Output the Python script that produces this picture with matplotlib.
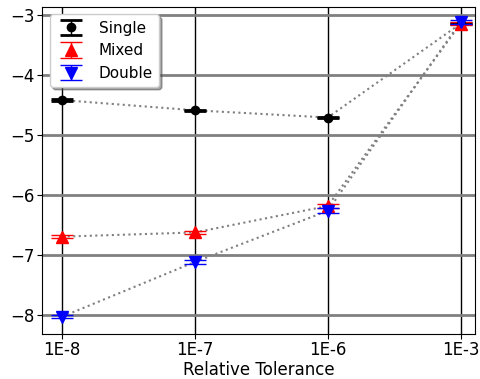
import matplotlib
matplotlib.use("Agg")
import matplotlib.pyplot as plt
import numpy as np

tolerances = ["1E-8", "1E-7", "1E-6", "1E-3"]
single = [-4.42, -4.59, -4.71, -3.15]
single_err = [0.01, 0.01, 0.01, 0.01]
mixed = [-6.69, -6.62, -6.18, -3.15]
mixed_err = [0.03, 0.02, 0.04, 0.03]
double = [-8.02, -7.11, -6.26, -3.12]
double_err = [0.03, 0.03, 0.04, 0.03]

x = np.arange(len(tolerances))

fig, ax = plt.subplots(figsize=(4.8, 3.79), dpi=100)
fig.subplots_adjust(left=0.088, right=0.99, top=0.982, bottom=0.12)

for vals in (single, mixed, double):
    ax.plot(x, vals, linestyle=':', color='gray', lw=1.5, zorder=2)

ax.errorbar(x, single, yerr=single_err, fmt='o', color='black', markersize=6,
            capsize=8, capthick=2, elinewidth=1, label='Single', zorder=3)
ax.errorbar(x, mixed, yerr=mixed_err, fmt='^', color='red', markersize=8,
            capsize=8, capthick=1, elinewidth=1, label='Mixed', zorder=3)
ax.errorbar(x, double, yerr=double_err, fmt='v', color='blue', markersize=8,
            capsize=8, capthick=1, elinewidth=1, label='Double', zorder=4)

ax.set_xticks(x)
ax.set_xticklabels(tolerances)
ax.set_xlim(-0.15, 3.11)
ax.set_ylim(-8.3, -2.87)
ax.set_yticks([-8, -7, -6, -5, -4, -3])
ax.tick_params(labelsize=12, pad=2)
ax.set_xlabel("Relative Tolerance", fontsize=12, labelpad=1)

ax.yaxis.grid(True, color='gray', lw=2)
ax.xaxis.grid(True, color='black', lw=1)
ax.set_axisbelow(True)

ax.legend(loc='upper left', shadow=True, fontsize=11, borderaxespad=0.5)

fig.savefig("out.png", dpi=100)
